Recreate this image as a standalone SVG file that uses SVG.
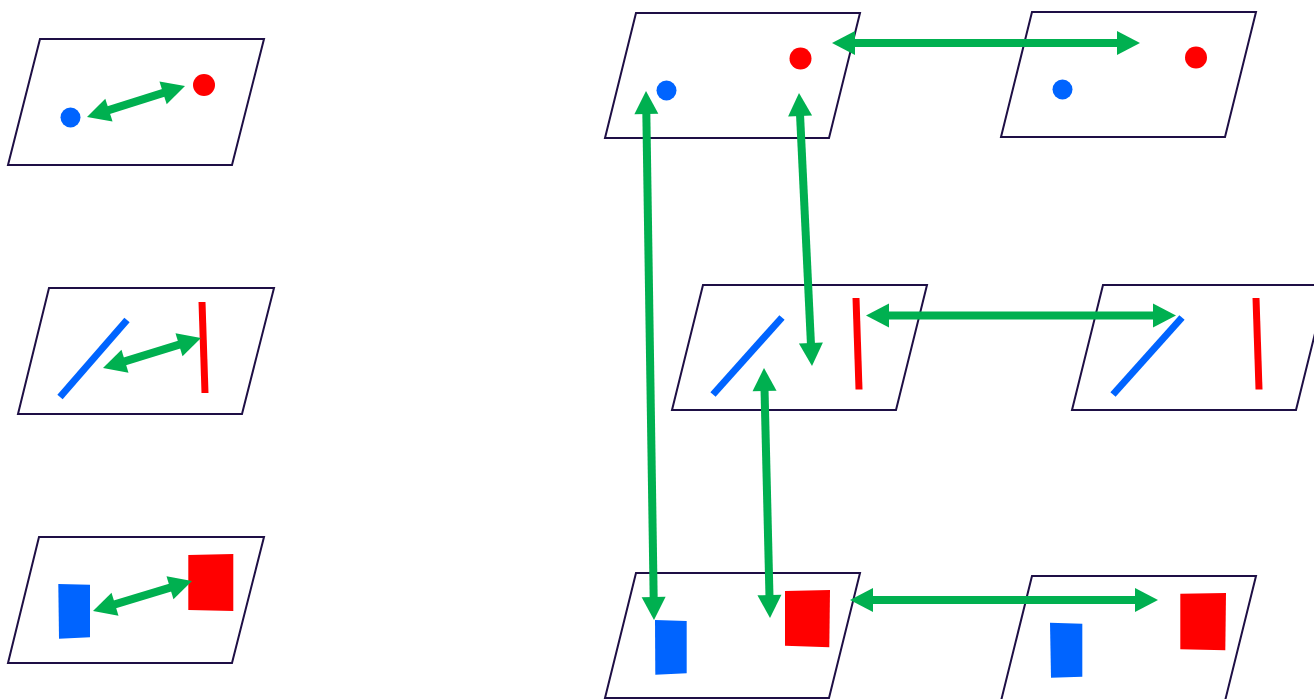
<svg xmlns="http://www.w3.org/2000/svg" width="1314" height="699" viewBox="0 0 1314 699">
<style>
.plane{fill:#ffffff;stroke:#1e0f45;stroke-width:2}
.blue{fill:#0064ff}
.red{fill:#ff0000}
.bl{stroke:#0064ff;stroke-width:7;fill:none}
.rl{stroke:#ff0000;stroke-width:7;fill:none}
.shaft{stroke:#00b050;stroke-width:8;fill:none}
.head{fill:#00b050}
</style>
<rect width="1314" height="699" fill="#ffffff"/>

<g id="left-points">
<polygon class="plane" points="40,39 264,39 232,165 8,165"/>
<circle class="blue" cx="70.5" cy="117.5" r="10"/>
<circle class="red" cx="204" cy="85" r="11"/>
</g>
<g id="left-lines">
<polygon class="plane" points="49,288 274,288 242,414 18,414"/>
<line class="bl" x1="60" y1="397" x2="127" y2="320"/>
<line class="rl" x1="202" y1="302" x2="205" y2="393"/>
</g>
<g id="left-regions">
<polygon class="plane" points="39,537 264,537 232,663 8,663"/>
<polygon class="blue" points="58.3,584 90,584.7 90,637.3 59,638.7"/>
<polygon class="red" points="188.3,555 233.3,554 233.3,611 188.3,610"/>
</g>

<g id="mid-points">
<polygon class="plane" points="636,13 860,13 829,138 605,138"/>
<circle class="blue" cx="666.5" cy="90.5" r="10"/>
<circle class="red" cx="800.5" cy="58.5" r="11"/>
</g>
<g id="right-points">
<polygon class="plane" points="1032,12 1256,12 1225,137 1001,137"/>
<circle class="blue" cx="1062.5" cy="89.5" r="10"/>
<circle class="red" cx="1196" cy="57.5" r="11"/>
</g>
<g id="mid-lines">
<polygon class="plane" points="703,285 927,285 896,410 672,410"/>
<line class="bl" x1="713" y1="394.5" x2="782" y2="317.5"/>
<line class="rl" x1="856" y1="298" x2="859" y2="389.5"/>
</g>
<g id="right-lines">
<polygon class="plane" points="1103,285 1327,285 1296,410 1072,410"/>
<line class="bl" x1="1113" y1="394.5" x2="1182" y2="317.5"/>
<line class="rl" x1="1256" y1="298" x2="1259" y2="389.5"/>
</g>
<g id="mid-regions">
<polygon class="plane" points="636,573 860,573 829,698 605,698"/>
<polygon class="blue" points="655,620 686.7,621 686.7,673.3 655.3,674.7"/>
<polygon class="red" points="785,591 830,590 829.3,647.3 785,645.7"/>
</g>
<g id="right-regions">
<polygon class="plane" points="1032,576 1256,576 1225,701 1001,701"/>
<polygon class="blue" points="1050,622.7 1082.3,623.7 1082.3,676.7 1051,677.7"/>
<polygon class="red" points="1180.3,593.7 1226,593 1225.3,650.3 1180.3,649.3"/>
</g>

<g id="connectors">
<g id="c1">
<line class="shaft" x1="107.9" y1="110.4" x2="164.1" y2="92.6"/>
<polygon class="head" points="185,86 166.70,104.37 159.46,81.49"/>
<polygon class="head" points="87,117 112.54,121.51 105.30,98.63"/>
</g>
<g id="c2">
<line class="shaft" x1="124" y1="361.6" x2="180" y2="344.4"/>
<polygon class="head" points="201,338 182.52,356.20 175.50,333.26"/>
<polygon class="head" points="103,368 128.50,372.74 121.48,349.80"/>
</g>
<g id="c3">
<line class="shaft" x1="114" y1="604.6" x2="171" y2="587.4"/>
<polygon class="head" points="192,581 173.47,599.15 166.51,576.19"/>
<polygon class="head" points="93,611 118.49,615.81 111.53,592.85"/>
</g>
<g id="c4">
<line class="shaft" x1="854" y1="43" x2="1118" y2="43"/>
<polygon class="head" points="832,43 855,31 855,55"/>
<polygon class="head" points="1140,43 1117,31 1117,55"/>
</g>
<g id="c5">
<line class="shaft" x1="888" y1="315.5" x2="1154" y2="315.5"/>
<polygon class="head" points="866,315.5 889,303.5 889,327.5"/>
<polygon class="head" points="1176,315.5 1153,303.5 1153,327.5"/>
</g>
<g id="c6">
<line class="shaft" x1="872" y1="600" x2="1136" y2="600"/>
<polygon class="head" points="850,600 873,588 873,612"/>
<polygon class="head" points="1158,600 1135,588 1135,612"/>
</g>
<g id="c7">
<line class="shaft" x1="646.33" y1="113" x2="653.67" y2="598"/>
<polygon class="head" points="646,91 634.35,114.18 658.35,113.82"/>
<polygon class="head" points="654,620 641.65,597.18 665.65,596.82"/>
</g>
<g id="c8">
<line class="shaft" x1="800.05" y1="115" x2="810.95" y2="344"/>
<polygon class="head" points="799,93 788.10,116.54 812.08,115.40"/>
<polygon class="head" points="812,366 798.92,343.60 822.90,342.46"/>
</g>
<g id="c9">
<line class="shaft" x1="764.53" y1="390" x2="769.47" y2="596"/>
<polygon class="head" points="764,368 752.55,391.28 776.55,390.70"/>
<polygon class="head" points="770,618 757.45,595.30 781.45,594.72"/>
</g>
</g>
</svg>
